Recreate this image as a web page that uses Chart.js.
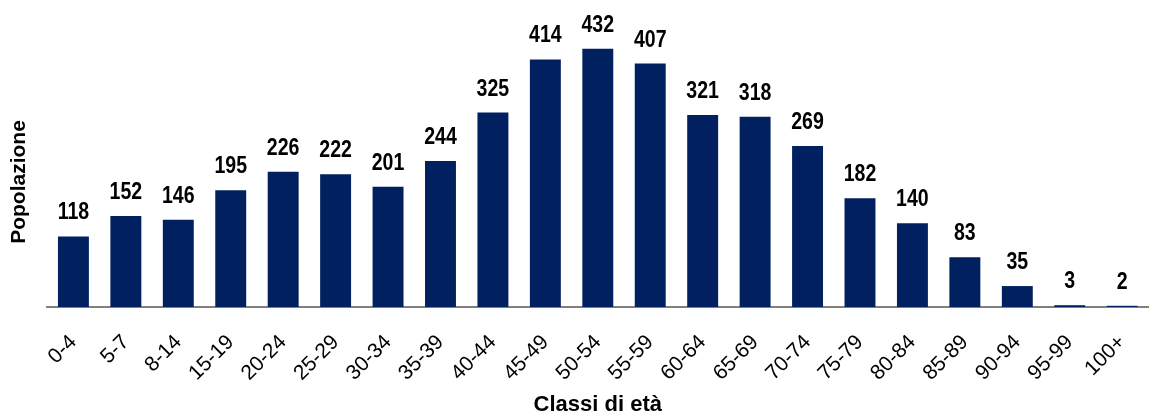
<!DOCTYPE html>
<html>
<head>
<meta charset="utf-8">
<script src="https://cdn.jsdelivr.net/npm/chart.js@4"></script>
<style>
  html, body { margin: 0; padding: 0; background: #fff; }
  #wrap { width: 1155px; height: 416px; position: relative; }
</style>
</head>
<body>
<div id="wrap"><canvas id="popChart"></canvas></div>
<script>
// classi di età e popolazione
const classi = ['0-4', '5-7', '8-14', '15-19', '20-24', '25-29', '30-34', '35-39', '40-44', '45-49',
    '50-54', '55-59', '60-64', '65-69', '70-74', '75-79', '80-84', '85-89', '90-94', '95-99', '100+'];
const popolazione = [118, 152, 146, 195, 226, 222, 201, 244, 325, 414,
    432, 407, 321, 318, 269, 182, 140, 83, 35, 3, 2];

// etichette sopra le barre (font stretto: scala orizzontale)
const valueLabels = {
    id: 'valueLabels',
    afterDatasetsDraw(chart) {
        const { ctx } = chart;
        const meta = chart.getDatasetMeta(0);
        ctx.save();
        ctx.font = 'bold 23px Arial, "Liberation Sans", sans-serif';
        ctx.fillStyle = '#000';
        ctx.textAlign = 'center';
        ctx.textBaseline = 'alphabetic';
        meta.data.forEach((bar, i) => {
            ctx.save();
            ctx.translate(bar.x, bar.y - 17);
            ctx.scale(0.85, 1);
            ctx.fillText(String(popolazione[i]), 0, 0);
            ctx.restore();
        });
        ctx.restore();
    }
};

const ctx = document.getElementById('popChart').getContext('2d');
new Chart(ctx, {
    type: 'bar',
    data: {
        labels: classi,
        datasets: [{
            data: popolazione,
            backgroundColor: '#002060',
            borderWidth: 0,
            barPercentage: 0.59,
            categoryPercentage: 1,
            clip: false
        }]
    },
    options: {
        responsive: true,
        maintainAspectRatio: false,
        animation: false,
        layout: { padding: { left: 7, right: 0, top: 57, bottom: 0 } },
        plugins: { legend: { display: false }, tooltip: { enabled: false } },
        scales: {
            x: {
                afterFit(scale) { scale.height = 109; },
                grid: { display: false },
                border: { color: '#808080', width: 2 },
                ticks: {
                    color: '#000',
                    minRotation: 45,
                    maxRotation: 45,
                    padding: 15,
                    font: { family: 'Arial, "Liberation Sans", sans-serif', size: 21 }
                },
                title: {
                    display: true,
                    text: 'Classi di età',
                    color: '#000',
                    padding: { top: 0, bottom: 0 },
                    font: { family: 'Arial, "Liberation Sans", sans-serif', size: 22, weight: 'bold', lineHeight: 1 }
                }
            },
            y: {
                min: 0,
                max: 418,
                grid: { display: false },
                border: { display: false },
                ticks: { display: false },
                title: {
                    display: true,
                    text: 'Popolazione',
                    color: '#000',
                    padding: { top: 0, bottom: 7 },
                    font: { family: 'Arial, "Liberation Sans", sans-serif', size: 21, weight: 'bold' }
                }
            }
        }
    },
    plugins: [valueLabels]
});
</script>
</body>
</html>
